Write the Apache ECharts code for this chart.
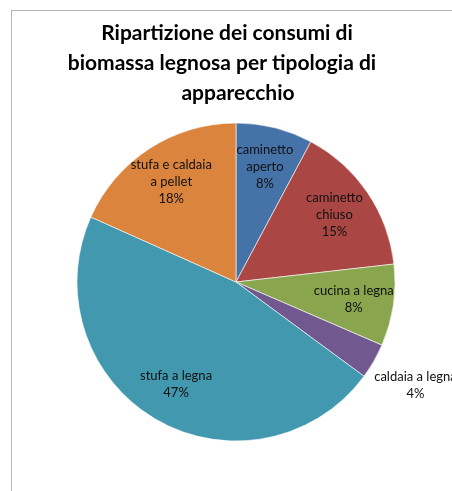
<!DOCTYPE html>
<html>
<head>
<meta charset="utf-8">
<script src="https://cdn.jsdelivr.net/npm/echarts@6/dist/echarts.min.js"></script>
<style>
html,body{margin:0;padding:0;background:#fff;}
#frame{position:absolute;left:11px;top:10px;width:460px;height:490px;border-left:1px solid #b8b8b8;border-top:1px solid #b8b8b8;}
#chart{position:absolute;left:0;top:0;width:452px;height:491px;}
</style>
</head>
<body>
<div id="frame"></div>
<div id="chart"></div>
<script>
const titleLines = ['Ripartizione dei consumi di', 'biomassa legnosa per tipologia di', 'apparecchio'];
const categories = ['caminetto\naperto', 'caminetto\nchiuso', 'cucina a legna', 'caldaia a legna', 'stufa a legna', 'stufa e caldaia\na pellet'];
const values = [7.8, 15.4, 8.3, 3.6, 46.6, 18.3];
const colors = ['#4572A7', '#AA4643', '#89A54E', '#71588F', '#4198AF', '#DB843D'];
const outsideLabel = 'caldaia a legna';

const FONT = 'Lato';
const cx = 236, cy = 282, R = 159;

const baseData = categories.map((c, i) => ({ name: c, value: values[i], itemStyle: { color: colors[i] } }));
const fmt = p => p.name + '\n' + Math.round(p.percent) + '%';

const chart = echarts.init(document.getElementById('chart'), null, { renderer: 'canvas' });
chart.setOption({
  backgroundColor: 'transparent',
  animation: false,
  title: titleLines.map((t, i) => ({
    text: t,
    left: [227, 222, 238][i],
    top: [23, 53, 83][i],
    textAlign: 'center',
    padding: 0,
    textStyle: { fontFamily: FONT, fontWeight: 'bold', fontSize: 21, color: '#000' }
  })),
  series: [
    {
      type: 'pie', center: [cx, cy], radius: [0, R], startAngle: 90, clockwise: true,
      silent: true, label: { show: false }, labelLine: { show: false },
      itemStyle: { borderColor: '#ffffff', borderWidth: 0.6 },
      data: baseData
    },
    {
      type: 'pie', center: [cx, cy], radius: [73, R], startAngle: 90, clockwise: true,
      silent: true, labelLine: { show: false },
      itemStyle: { color: 'rgba(0,0,0,0)' },
      label: { show: true, position: 'inside', formatter: fmt, fontFamily: FONT, fontSize: 13, lineHeight: 17, color: '#111' },
      data: categories.map((c, i) => ({ name: c, value: values[i], label: { show: c !== outsideLabel } }))
    },
    {
      type: 'pie', center: [cx, cy], radius: [188, 220], startAngle: 90, clockwise: true,
      silent: true, labelLine: { show: false },
      itemStyle: { color: 'rgba(0,0,0,0)' },
      label: { show: true, position: 'inside', formatter: fmt, fontFamily: FONT, fontSize: 13, lineHeight: 17, color: '#111' },
      data: categories.map((c, i) => ({ name: c, value: values[i], label: { show: c === outsideLabel } }))
    }
  ]
});
</script>
</body>
</html>
